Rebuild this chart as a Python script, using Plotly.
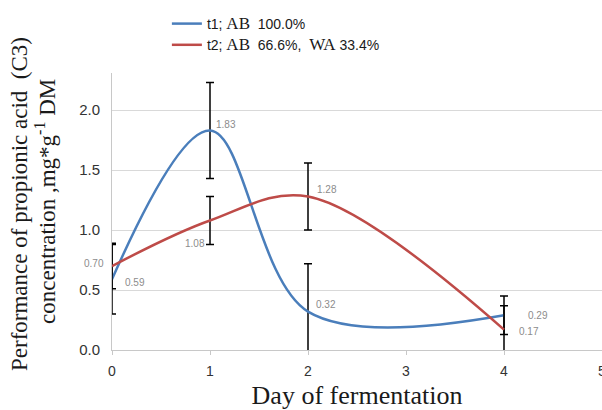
import plotly.graph_objects as go

days = [0, 1, 2, 4]
t1_values = [0.59, 1.83, 0.32, 0.29]
t1_errors = [0.29, 0.40, 0.40, 0.16]
t2_values = [0.70, 1.08, 1.28, 0.17]
t2_errors = [0.19, 0.20, 0.28, 0.20]
t1_name = 't1; <span style="font-family:Liberation Serif;font-size:17px">AB</span>  100.0%'
t2_name = 't2; <span style="font-family:Liberation Serif;font-size:17px">AB</span>  66.6%,  <span style="font-family:Liberation Serif;font-size:17px">WA</span> 33.4%'
y_title_1 = "Performance of propionic acid  (C3)"
y_title_2 = "concentration ,mg*g<sup>-1</sup> DM"
x_title = "Day of fermentation"
x_tick_max = 5
y_ticks = [0.0, 0.5, 1.0, 1.5, 2.0]

# label pixel offsets (styling)
t1_offsets = [(23, 3), (16, -6), (18, -7), (34, 0)]
t2_offsets = [(-18, -3), (-15, 23), (19, -7), (25, 2)]

BLUE = "#4A7EBB"
RED = "#BE4B48"

L, R, T, B, W, H = 112, 0, 73, 60, 602, 410
PW, PH = W - L - R, H - T - B

def px_x(p):
    return (p - L) / PW

def px_y(p):
    return (H - B - p) / PH

fig = go.Figure()
fig.add_trace(go.Scatter(
    x=days, y=t1_values, mode="lines", name=t1_name, legendgroup="a",
    line=dict(color=BLUE, width=2.5, shape="spline", smoothing=1.0),
    error_y=dict(type="data", array=t1_errors, color="black", thickness=1.5, width=4),
))
fig.add_trace(go.Scatter(
    x=days, y=t2_values, mode="lines", name=t2_name, legendgroup="b",
    line=dict(color=RED, width=2.5, shape="spline", smoothing=1.0),
    error_y=dict(type="data", array=t2_errors, color="black", thickness=1.5, width=4),
))

for vals, offs in ((t1_values, t1_offsets), (t2_values, t2_offsets)):
    for xv, yv, (dx, dy) in zip(days, vals, offs):
        fig.add_annotation(x=xv, y=yv, text=f"{yv:.2f}", showarrow=False,
                           xshift=dx, yshift=-dy,
                           font=dict(family="Liberation Sans", size=10, color="#8c8c8c"))

fig.add_annotation(xref="paper", yref="paper", x=px_x(20), y=px_y(204),
                   xanchor="center", yanchor="middle",
                   text=y_title_1, textangle=-90, showarrow=False,
                   font=dict(family="Liberation Serif", size=23, color="#1a1a1a"))
fig.add_annotation(xref="paper", yref="paper", x=px_x(45), y=px_y(202),
                   xanchor="center", yanchor="middle",
                   text=y_title_2, textangle=-90, showarrow=False,
                   font=dict(family="Liberation Serif", size=23, color="#1a1a1a"))

fig.update_layout(
    width=W, height=H,
    margin=dict(l=L, r=R, t=T, b=B),
    paper_bgcolor="white", plot_bgcolor="white",
    showlegend=True,
    legend=dict(x=0.112, y=px_y(8), xanchor="left", yanchor="top",
                font=dict(family="Liberation Sans", size=14, color="#1a1a1a"),
                bgcolor="rgba(0,0,0,0)", tracegroupgap=0, itemwidth=30),
    font=dict(family="Liberation Sans"),
)
fig.update_xaxes(range=[0, x_tick_max], tickmode="linear", tick0=0, dtick=1,
                 showgrid=False, zeroline=False, showline=True, linecolor="#c8c8c8",
                 ticks="outside", ticklen=4, tickcolor="#c8c8c8", ticklabelstandoff=4,
                 ticklabeloverflow="allow", automargin=False,
                 title=dict(text=x_title, standoff=10,
                            font=dict(family="Liberation Serif", size=26, color="#1a1a1a")),
                 tickfont=dict(family="Liberation Sans", size=14, color="#333333"))
fig.update_yaxes(range=[0, 2.31], tickvals=y_ticks, ticktext=[f"{v:.1f}" for v in y_ticks],
                 showgrid=True, gridcolor="#d9d9d9", zeroline=False,
                 showline=True, linecolor="#c8c8c8", ticks="", ticklabelstandoff=8,
                 automargin=False,
                 tickfont=dict(family="Liberation Sans", size=15, color="#333333"))

fig.write_html("out.html", config={"displayModeBar": False},
               post_script="document.body.style.margin='0';document.body.style.overflow='hidden';")
